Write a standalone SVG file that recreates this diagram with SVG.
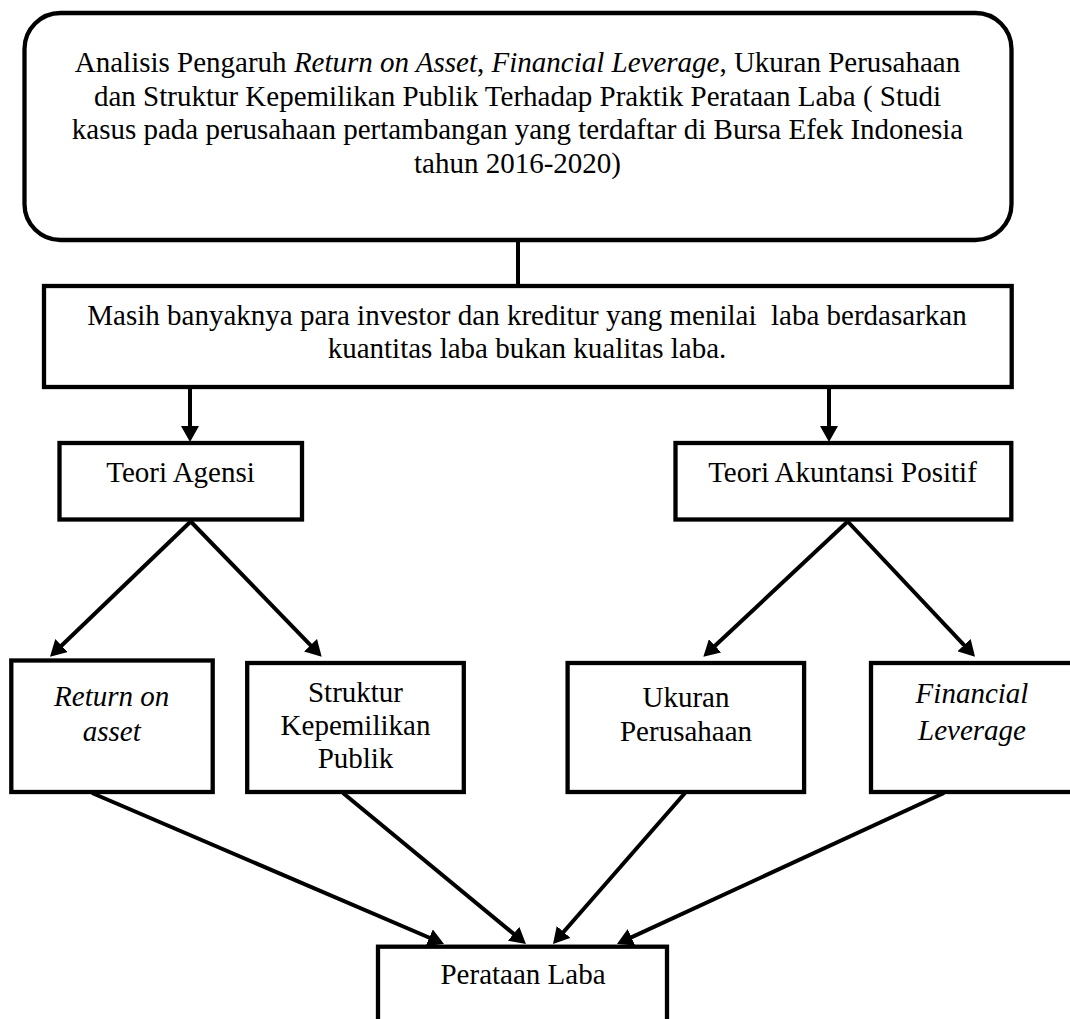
<svg xmlns="http://www.w3.org/2000/svg" width="1070" height="1019" viewBox="0 0 1070 1019">
  <style>
    .box { fill: #ffffff; stroke: #000000; stroke-width: 4.3; }
    .t { font-family: "Liberation Serif", "Times New Roman", serif; font-size: 29px; fill: #000000; text-anchor: middle; }
    .i { font-style: italic; }
    .c { stroke: #000000; stroke-width: 4; fill: none; }
    .ca { stroke: #000000; stroke-width: 4; fill: none; marker-end: url(#ah); }
  </style>
  <defs>
    <marker id="ah" markerUnits="userSpaceOnUse" viewBox="0 0 16 18" markerWidth="16" markerHeight="18" refX="11" refY="9" orient="auto">
      <path d="M0,0 L16,9 L0,18 z" fill="#000000"/>
    </marker>
  </defs>
  <rect x="0" y="0" width="1070" height="1019" fill="#ffffff"/>

  <g id="connectors">
    <line class="c" x1="518" y1="241" x2="518" y2="286" stroke-width="4.5"/>
    <line class="ca" x1="190" y1="389" x2="190" y2="437"/>
    <line class="ca" x1="829" y1="389" x2="829" y2="437"/>
    <line class="ca" x1="190.7" y1="521.5" x2="53.6" y2="653.2"/>
    <line class="ca" x1="190.7" y1="521.5" x2="318.2" y2="653.1"/>
    <line class="ca" x1="847.7" y1="521.5" x2="707" y2="653.3"/>
    <line class="ca" x1="847.7" y1="521.5" x2="971.6" y2="653.1"/>
    <line class="ca" x1="92" y1="793" x2="439.4" y2="942"/>
    <line class="ca" x1="343" y1="793" x2="522.1" y2="940.8"/>
    <line class="ca" x1="685" y1="793" x2="556.3" y2="940.2"/>
    <line class="ca" x1="944" y1="793" x2="621.5" y2="941.9"/>
  </g>

  <g id="judul">
    <rect class="box" x="24.5" y="13" width="987" height="227" rx="36" ry="36"/>
    <text class="t" x="517.5" y="72">Analisis Pengaruh <tspan class="i">Return on Asset</tspan>, <tspan class="i">Financial Leverage</tspan>, Ukuran Perusahaan</text>
    <text class="t" x="517.5" y="105.5">dan Struktur Kepemilikan Publik Terhadap Praktik Perataan Laba ( Studi</text>
    <text class="t" x="517.5" y="139">kasus pada perusahaan pertambangan yang terdaftar di Bursa Efek Indonesia</text>
    <text class="t" x="517.5" y="172.5">tahun 2016-2020)</text>
  </g>

  <g id="masalah">
    <rect class="box" x="44" y="286" width="967.7" height="101"/>
    <text class="t" x="527" y="325" style="white-space:pre">Masih banyaknya para investor dan kreditur yang menilai  laba berdasarkan</text>
    <text class="t" x="527" y="358.3">kuantitas laba bukan kualitas laba.</text>
  </g>

  <g id="teori-agensi">
    <rect class="box" x="59.5" y="443" width="242.5" height="76.5"/>
    <text class="t" x="180.5" y="481.7">Teori Agensi</text>
  </g>

  <g id="teori-akuntansi-positif">
    <rect class="box" x="675.5" y="443" width="335.8" height="76.5"/>
    <text class="t" x="842.5" y="481.7">Teori Akuntansi Positif</text>
  </g>

  <g id="return-on-asset">
    <rect class="box" x="11.3" y="660.5" width="201.4" height="131.5"/>
    <text class="t i" x="111.7" y="705.7">Return on</text>
    <text class="t i" x="111.7" y="740.7">asset</text>
  </g>

  <g id="struktur-kepemilikan-publik">
    <rect class="box" x="247.2" y="663" width="216.6" height="129"/>
    <text class="t" x="355.5" y="701.7">Struktur</text>
    <text class="t" x="355.5" y="735">Kepemilikan</text>
    <text class="t" x="355.5" y="768.3">Publik</text>
  </g>

  <g id="ukuran-perusahaan">
    <rect class="box" x="567.6" y="663" width="236.5" height="129"/>
    <text class="t" x="686" y="706.5">Ukuran</text>
    <text class="t" x="686" y="741">Perusahaan</text>
  </g>

  <g id="financial-leverage">
    <rect class="box" x="871" y="663" width="202" height="129"/>
    <text class="t i" x="972" y="702.5">Financial</text>
    <text class="t i" x="972" y="740">Leverage</text>
  </g>

  <g id="perataan-laba">
    <rect class="box" x="378" y="946.7" width="289" height="100"/>
    <text class="t" x="523" y="984">Perataan Laba</text>
  </g>
</svg>
